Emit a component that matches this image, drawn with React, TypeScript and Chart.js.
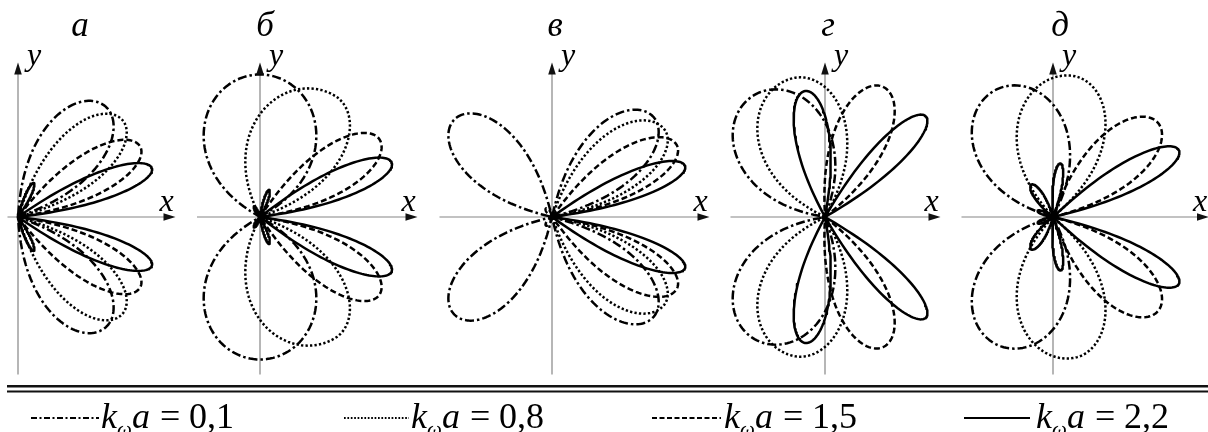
import React, { useEffect, useRef } from "react";
import { Chart, registerables } from "chart.js";

Chart.register(...registerables);

// ---------- layout ----------
const W = 1208;
const H = 432;
const UNIT_PX = 150; // pixels per amplitude unit
const ORIGIN_X = [18, 260, 552, 825, 1053];
const ORIGIN_Y = 217;
const TITLE_X = [80, 265, 555, 828, 1060];
const LEGEND_LINE_FROM = [31, 344, 652, 964];
const LEGEND_LINE_TO = [99, 409, 721, 1030];
const LEGEND_TEXT_X = [101, 411, 724, 1036];
const LOBE_SHAPE = 0.75;

// ---------- data ----------
const panelTitles = ["а", "б", "в", "г", "д"];
const seriesValues = ["0,1", "0,8", "1,5", "2,2"];

// axis extents per panel (amplitude units)
const axisXFrom = [-0.07, -0.42, -0.75, -0.63, -0.61];
const axisXTo = [1.05, 1.05, 1.05, 0.77, 1.04];
const axisYFrom = [-1.05, -1.05, -1.05, -1.05, -1.05];
const axisYTo = [1.03, 1.03, 1.03, 1.03, 1.03];

// lobes of the upper half-plane (mirrored about the x axis):
// [panel, direction deg, length, spread counter-clockwise deg, spread clockwise deg]
const lobesKa01 = [
  [0, 52, 0.94, 34, 32],
  [1, 90, 0.95, 60, 60],
  [2, 45, 0.95, 32, 30],
  [2, 135, 0.92, 31, 31],
  [3, 120, 0.94, 50, 50],
  [4, 113, 0.93, 50, 50],
];
const lobesKa08 = [
  [0, 43, 0.95, 29, 27],
  [1, 58, 0.95, 58, 38],
  [2, 38, 0.95, 32, 27],
  [3, 103, 0.95, 50, 42],
  [4, 82, 0.95, 50, 41],
];
const lobesKa15 = [
  [0, 30, 0.94, 22, 21],
  [1, 33, 0.95, 23, 24],
  [2, 30, 0.96, 24, 21],
  [2, 125, 0.07, 23, 23],
  [3, 66, 0.95, 27, 27],
  [4, 42, 0.94, 28, 27],
];
const lobesKa22 = [
  [0, 20, 0.95, 14.5, 13],
  [0, 65, 0.25, 10, 10],
  [1, 22.5, 0.95, 15, 14.5],
  [1, 71, 0.19, 10, 10],
  [1, 120, 0.08, 14, 14],
  [2, 21, 0.95, 14.5, 13],
  [3, 99, 0.85, 19, 19],
  [3, 45, 0.95, 14.5, 14.5],
  [4, 28, 0.95, 15, 14.5],
  [4, 82, 0.36, 12, 12],
  [4, 124, 0.26, 17, 17],
  [4, 158, 0.11, 14, 14],
];
const seriesLobes = [lobesKa01, lobesKa08, lobesKa15, lobesKa22];

// ---------- styles ----------
const seriesDash = [[9, 3, 2.5, 3], [2.3, 2.2], [6, 3], []];
const seriesWidth = [2.5, 2.5, 2.5, 2.5];
const INK = "#000000";
const AXIS = "#858585";
const SERIF = '"Liberation Serif", "Times New Roman", serif';

const toRad = Math.PI / 180;

function lobePoints(dir: number, len: number, sa: number, sb: number) {
  const pts: { x: number; y: number }[] = [];
  const n = 90;
  for (let i = 0; i <= n; i++) {
    const t = -1 + (2 * i) / n;
    const th = t < 0 ? dir + t * sb : dir + t * sa;
    const c = Math.max(0, Math.cos((Math.PI / 2) * Math.abs(t)));
    const r = len * Math.pow(c, LOBE_SHAPE);
    pts.push({ x: r * Math.cos(th * toRad), y: r * Math.sin(th * toRad) });
  }
  return pts;
}

function buildDatasets() {
  const ds: any[] = [];
  for (let p = 0; p < 5; p++) {
    ds.push({
      data: [
        { x: axisXFrom[p], y: 0 },
        { x: axisXTo[p] - 0.04, y: 0 },
      ],
      xAxisID: "x" + p,
      yAxisID: "y" + p,
      showLine: true,
      borderColor: AXIS,
      borderWidth: 1.2,
      pointRadius: 0,
      order: 10,
    });
    ds.push({
      data: [
        { x: 0, y: axisYFrom[p] },
        { x: 0, y: axisYTo[p] - 0.04 },
      ],
      xAxisID: "x" + p,
      yAxisID: "y" + p,
      showLine: true,
      borderColor: AXIS,
      borderWidth: 1.2,
      pointRadius: 0,
      order: 10,
    });
  }
  seriesLobes.forEach((lobes, s) => {
    for (let p = 0; p < 5; p++) {
      const upper = lobes.filter((l) => l[0] === p);
      if (!upper.length) continue;
      const pts: { x: number; y: number }[] = [];
      upper.forEach((l) => pts.push(...lobePoints(l[1], l[2], l[3], l[4])));
      upper.forEach((l) => pts.push(...lobePoints(-l[1], l[2], l[4], l[3])));
      ds.push({
        label: seriesValues[s],
        data: pts,
        xAxisID: "x" + p,
        yAxisID: "y" + p,
        showLine: true,
        borderColor: INK,
        borderWidth: seriesWidth[s],
        borderDash: seriesDash[s],
        borderCapStyle: "butt",
        borderJoinStyle: "round",
        pointRadius: 0,
        tension: 0,
        fill: false,
        order: 1,
      });
    }
  });
  return ds;
}

function buildScales() {
  const scales: any = {
    x: { display: false },
    y: { display: false },
  };
  for (let p = 0; p < 5; p++) {
    scales["x" + p] = {
      type: "linear",
      axis: "x",
      display: false,
      min: -ORIGIN_X[p] / UNIT_PX,
      max: (W - ORIGIN_X[p]) / UNIT_PX,
    };
    scales["y" + p] = {
      type: "linear",
      axis: "y",
      display: false,
      min: -(H - ORIGIN_Y) / UNIT_PX,
      max: ORIGIN_Y / UNIT_PX,
    };
  }
  return scales;
}

const decorations = {
  id: "decorations",
  afterDatasetsDraw(chart: any) {
    const ctx: CanvasRenderingContext2D = chart.ctx;
    ctx.save();
    for (let p = 0; p < 5; p++) {
      const xs = chart.scales["x" + p];
      const ys = chart.scales["y" + p];
      const ox = xs.getPixelForValue(0);
      const oy = ys.getPixelForValue(0);
      const xt = xs.getPixelForValue(axisXTo[p]);
      const yt = ys.getPixelForValue(axisYTo[p]);
      ctx.fillStyle = "#111";
      ctx.beginPath();
      ctx.moveTo(xt, oy);
      ctx.lineTo(xt - 12, oy - 3.8);
      ctx.lineTo(xt - 12, oy + 3.8);
      ctx.closePath();
      ctx.fill();
      ctx.beginPath();
      ctx.moveTo(ox, yt);
      ctx.lineTo(ox - 3.8, yt + 12);
      ctx.lineTo(ox + 3.8, yt + 12);
      ctx.closePath();
      ctx.fill();
      ctx.fillStyle = INK;
      ctx.textAlign = "center";
      ctx.textBaseline = "alphabetic";
      ctx.font = "italic 32px " + SERIF;
      ctx.fillText("x", xt - 9, oy - 6);
      ctx.fillText("y", ox + 16, yt + 2);
      ctx.font = "italic 35px " + SERIF;
      ctx.fillText(panelTitles[p], TITLE_X[p], 36);
    }
    ctx.fillStyle = "#111";
    ctx.fillRect(7, 385, W - 7, 2.5);
    ctx.fillRect(7, 390.5, W - 7, 2);
    const base = 428;
    ctx.textAlign = "left";
    ctx.fillStyle = INK;
    for (let s = 0; s < 4; s++) {
      ctx.save();
      ctx.strokeStyle = INK;
      ctx.lineWidth = 1.8;
      ctx.setLineDash(s === 1 ? [1.7, 1.7] : s === 0 ? [6, 2.5, 2, 2.5] : s === 2 ? [5, 2.5] : []);
      ctx.beginPath();
      ctx.moveTo(LEGEND_LINE_FROM[s], 418);
      ctx.lineTo(LEGEND_LINE_TO[s], 418);
      ctx.stroke();
      ctx.restore();
      const x0 = LEGEND_TEXT_X[s];
      ctx.font = "italic 36px " + SERIF;
      ctx.fillText("k", x0, base);
      ctx.font = "italic 21px " + SERIF;
      ctx.fillText("ω", x0 + 16, base + 8);
      ctx.font = "italic 36px " + SERIF;
      ctx.fillText("a", x0 + 31, base);
      ctx.font = "36px " + SERIF;
      ctx.fillText("=", x0 + 59, base);
      ctx.fillText(seriesValues[s], x0 + 88, base);
    }
    ctx.restore();
  },
};

export default function App() {
  const ref = useRef<HTMLCanvasElement | null>(null);
  useEffect(() => {
    let chart: Chart | null = null;
    let cancelled = false;
    const make = () => {
      if (cancelled || !ref.current) return;
      chart = new Chart(ref.current, {
        type: "scatter",
        data: { datasets: buildDatasets() },
        options: {
          responsive: false,
          animation: false,
          devicePixelRatio: 1,
          events: [],
          layout: { padding: 0 },
          scales: buildScales(),
          plugins: { legend: { display: false }, tooltip: { enabled: false } },
        },
        plugins: [decorations],
      } as any);
    };
    const fonts: any = (document as any).fonts;
    if (fonts && fonts.load) {
      Promise.all([
        fonts.load('italic 32px "Liberation Serif"', "xyабвгдkωa"),
        fonts.load('36px "Liberation Serif"', "=0,1258"),
      ])
        .catch(() => null)
        .then(make);
    } else {
      make();
    }
    return () => {
      cancelled = true;
      if (chart) chart.destroy();
    };
  }, []);
  return (
    <div style={{ position: "absolute", left: 0, top: 0, width: W, height: H, background: "#fff" }}>
      <canvas ref={ref} width={W} height={H} style={{ display: "block" }} />
    </div>
  );
}
